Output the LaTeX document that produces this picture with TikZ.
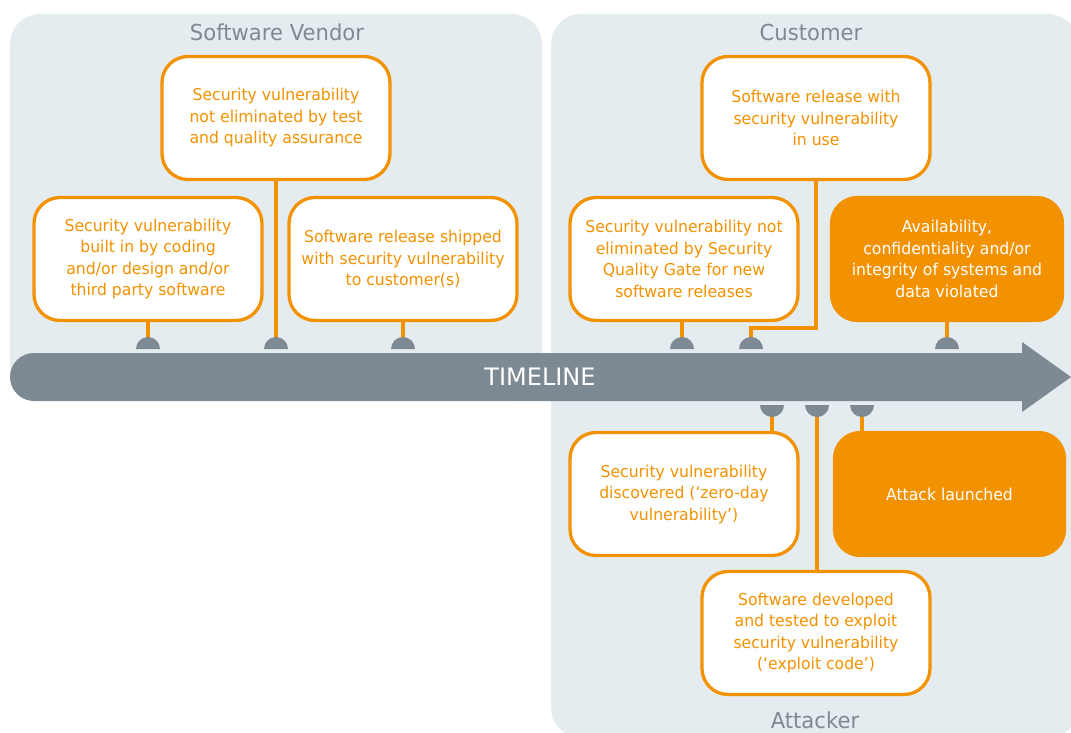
\documentclass[tikz,border=0pt]{standalone}
\usepackage{fontspec}
\setmainfont{DejaVu Sans}[FakeStretch=0.96]
\newfontfamily\tlfont{DejaVu Sans}
\usetikzlibrary{calc}
\definecolor{panelbg}{HTML}{E5ECF0}
\definecolor{tlgray}{HTML}{7E8A93}
\definecolor{orng}{HTML}{F39200}
\begin{document}
\begin{tikzpicture}[x=1pt,y=-1pt,
  panel/.style={fill=panelbg, rounded corners=30pt},
  ev/.style={draw=orng, line width=3.3pt, fill=white, rounded corners=26pt,
    minimum width=228pt, minimum height=123pt, inner sep=0pt, align=center,
    text=orng, font=\fontsize{16.3}{21.5}\selectfont},
  evf/.style={ev, fill=orng, text=white},
  conn/.style={draw=orng, line width=3.3pt},
  ptitle/.style={text=tlgray, font=\fontsize{22}{24}\selectfont},
  knob/.style={fill=tlgray}
]
\useasboundingbox (0,0) rectangle (1071,733);
\clip (0,0) rectangle (1071,733);
\fill[white] (0,0) rectangle (1071,733);
% panels
\fill[panel] (10,14) rectangle (542,401);
\fill[panel] (551,14) rectangle (1078,738);
\node[ptitle] (tv) at (277,32) {Software Vendor};
\node[ptitle] (tc) at (811,32) {Customer};
\node[ptitle] (ta) at (815,720) {Attacker};
% timeline
\fill[tlgray, rounded corners=24pt] (10,353) rectangle (1050,401);
\fill[tlgray] (1022,342) -- (1071,377) -- (1022,412) -- cycle;
\node[text=white, font=\tlfont\fontsize{24}{26}\selectfont] (tl) at (540,377) {TIMELINE};
% events
\node[ev] (b1) at (148,259) {Security vulnerability\\built in by coding\\and/or design and/or\\third party software};
\node[ev] (b2) at (276,118) {Security vulnerability\\not eliminated by test\\and quality assurance};
\node[ev] (b3) at (403,259) {Software release shipped\\with security vulnerability\\to customer(s)};
\node[ev] (b4) at (816,118) {Software release with\\security vulnerability\\in use};
\node[ev] (b5) at (684,259) {Security vulnerability not\\eliminated by Security\\Quality Gate for new\\software releases};
\node[evf, minimum width=231pt] (b6) at (947,259) {Availability,\\confidentiality and/or\\integrity of systems and\\data violated};
\node[ev] (b7) at (684,494) {Security vulnerability\\discovered (‘zero-day\\vulnerability’)};
\node[evf, minimum width=230pt] (b8) at (949.5,494) {Attack launched};
\node[ev] (b9) at (816,633) {Software developed\\and tested to exploit\\security vulnerability\\(‘exploit code’)};
% anchor points on the timeline
\coordinate (u1) at (148,349);
\coordinate (u2) at (276,349);
\coordinate (u3) at (403,349);
\coordinate (u4) at (682,349);
\coordinate (u5) at (751,349);
\coordinate (u6) at (947,349);
\coordinate (d1) at (772,405);
\coordinate (d2) at (817,405);
\coordinate (d3) at (862,405);
% connectors
\draw[conn] (b1.south) -- (u1);
\draw[conn] (b2.south) -- (u2);
\draw[conn] (b3.south) -- (u3);
\draw[conn] (b5.south -| u4) -- (u4);
\draw[conn] (b4.south) -- (b4.south |- 0,328) -| (u5);
\draw[conn] (b6.south -| u6) -- (u6);
\draw[conn] (b7.north -| d1) -- (d1);
\draw[conn] (b9.north -| d2) -- (d2);
\draw[conn] (b8.north -| d3) -- (d3);
% knobs
\foreach \p in {u1,u2,u3,u4,u5,u6}{
  \fill[knob] ($(\p)+(12,0)$) arc[start angle=0,end angle=180,radius=12pt] -- cycle;
}
\foreach \p in {d1,d2,d3}{
  \fill[knob] ($(\p)+(-12,0)$) arc[start angle=180,end angle=360,radius=12pt] -- cycle;
}
\end{tikzpicture}
\end{document}
